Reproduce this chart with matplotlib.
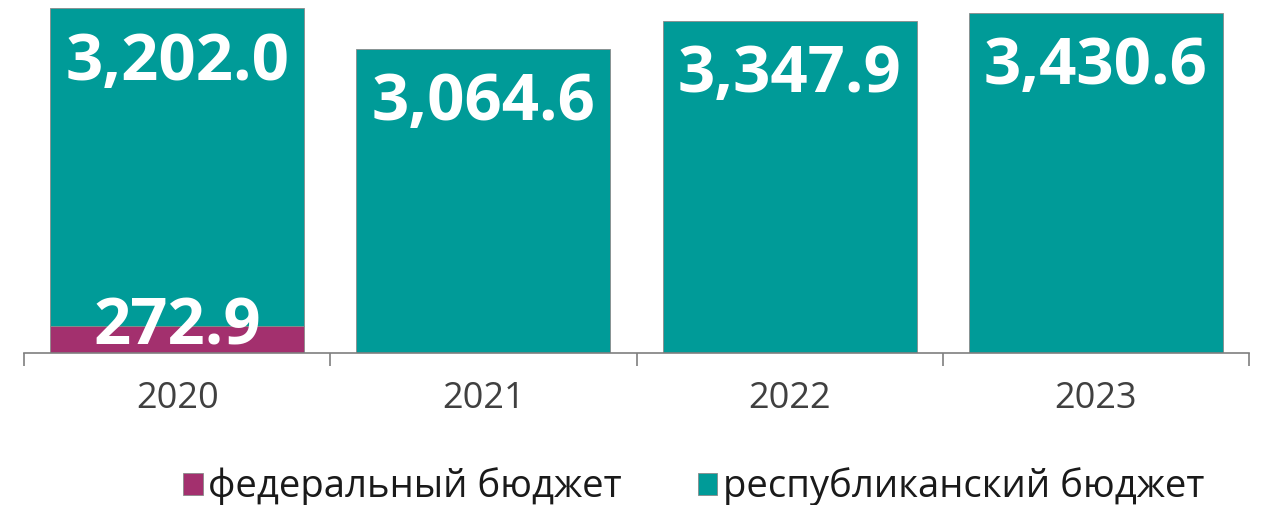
import matplotlib
matplotlib.use("Agg")
import matplotlib.pyplot as plt
import numpy as np

years = ["2020", "2021", "2022", "2023"]
federal = [272.9, 0, 0, 0]
republic = [3202.0, 3064.6, 3347.9, 3430.6]
fed_labels = ["272.9", "", "", ""]
rep_labels = ["3,202.0", "3,064.6", "3,347.9", "3,430.6"]

teal = "#009B98"
purple = "#A3306E"
font = "Open Sans"

fig = plt.figure(figsize=(12.61, 5.05), dpi=100)
ax = fig.add_axes([24/1261, 152/505, 1225/1261, 353/505])
x = np.arange(len(years))
w = 0.83
b1 = ax.bar(x, federal, w, color=purple, edgecolor="#8a8a8a", linewidth=0.6, label="федеральный бюджет")
b2 = ax.bar(x, republic, w, bottom=federal, color=teal, edgecolor="#8a8a8a", linewidth=0.6, label="республиканский бюджет")

ax.set_xlim(-0.5, len(years) - 0.5)
ax.set_ylim(0, 3560)
for s in ["top", "right", "left"]:
    ax.spines[s].set_visible(False)
ax.spines["bottom"].set_color("#7f7f7f")
ax.spines["bottom"].set_linewidth(1.2)
ax.set_yticks([])
ax.set_xticks(np.arange(len(years) + 1) - 0.5, minor=True)
ax.tick_params(axis="x", which="minor", length=9, color="#7f7f7f", width=1.2)
ax.set_xticks(x)
ax.set_xticklabels(years, fontsize=26, color="#404040", family=font)
ax.tick_params(axis="x", which="major", length=0, pad=20)

for i in range(len(years)):
    top = federal[i] + republic[i]
    ax.annotate(rep_labels[i], (x[i], top), xytext=(0, -16), textcoords="offset points",
                ha="center", va="top", fontsize=47, fontweight="bold", color="white", family=font)
    if fed_labels[i]:
        ax.annotate(fed_labels[i], (x[i], federal[i] / 2), xytext=(0, 8), textcoords="offset points",
                    ha="center", va="center", fontsize=47, fontweight="bold", color="white", family=font)

leg = fig.legend(handles=[b1, b2], loc="center", bbox_to_anchor=(694/1261, 0.036), ncol=2,
                 frameon=False, prop={"family": font, "size": 27.5}, handlelength=0.5, handleheight=0.5,
                 handletextpad=0.15, columnspacing=2.0, labelcolor="#1a1a1a")
fig.savefig("out.png", dpi=100)
